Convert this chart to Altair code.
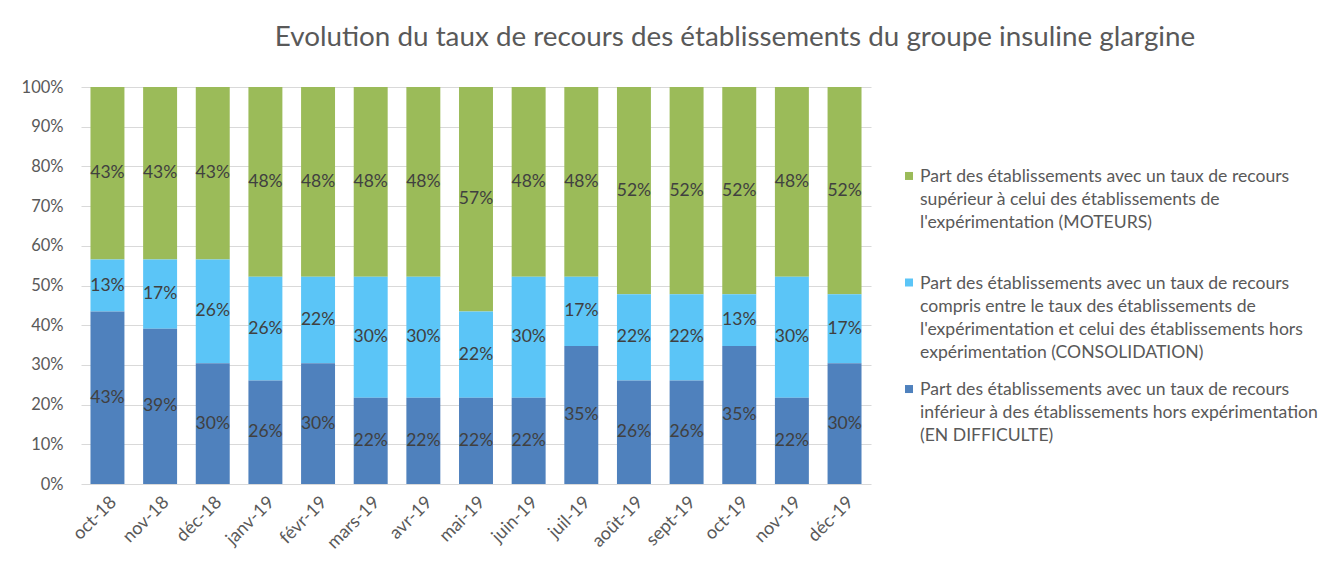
import altair as alt
import pandas as pd

# ---- data (number of establishments out of 23) ----
months = ["oct-18", "nov-18", "déc-18", "janv-19", "févr-19", "mars-19", "avr-19",
          "mai-19", "juin-19", "juil-19", "août-19", "sept-19", "oct-19", "nov-19", "déc-19"]
en_difficulte = [10, 9, 7, 6, 7, 5, 5, 5, 5, 8, 6, 6, 8, 5, 7]
consolidation = [3, 4, 6, 6, 5, 7, 7, 5, 7, 4, 5, 5, 3, 7, 4]
moteurs = [10, 10, 10, 11, 11, 11, 11, 13, 11, 11, 12, 12, 12, 11, 12]

keys = ["MOTEURS", "CONSOLIDATION", "EN DIFFICULTE"]
stack_order = [2, 1, 0]  # bottom = EN DIFFICULTE
legend_labels = [
    "Part des établissements avec un taux de recours\nsupérieur à celui des établissements de\nl'expérimentation (MOTEURS)",
    "Part des établissements avec un taux de recours\ncompris entre le taux des établissements de\nl'expérimentation et celui des établissements hors\nexpérimentation (CONSOLIDATION)",
    "Part des établissements avec un taux de recours\ninférieur à des établissements hors expérimentation\n(EN DIFFICULTE)",
]
colors = ["#9BBB59", "#5BC5F7", "#4F81BD"]
y_ticks = [0, 0.1, 0.2, 0.3, 0.4, 0.5, 0.6, 0.7, 0.8, 0.9, 1.0]
title_text = "Evolution du taux de recours des établissements du groupe insuline glargine"

series = {"MOTEURS": moteurs, "CONSOLIDATION": consolidation, "EN DIFFICULTE": en_difficulte}
rows = []
for k, o in zip(keys, stack_order):
    for m, v in zip(months, series[k]):
        rows.append({"month": m, "key": k, "order": o, "count": v})
df = pd.DataFrame(rows)

leg_df = pd.DataFrame({"key": keys, "label": legend_labels})

FONT = "Lato"
color_scale = alt.Scale(domain=keys, range=colors)

x_enc = alt.X("month:N", sort=months, title=None,
              scale=alt.Scale(paddingInner=0.355, paddingOuter=0.18),
              axis=alt.Axis(labelAngle=-45, labelPadding=9, ticks=False, domain=False,
                            grid=False, labelFontSize=18, labelColor="#595959", labelFont=FONT))

y_axis = alt.Axis(format=".0%", values=y_ticks, tickCount=11, ticks=False, domain=False,
                  labelOverlap=False, labelFlush=False,
                  gridColor="#D9D9D9", labelPadding=18, minExtent=60, maxExtent=60,
                  labelFontSize=16.5, labelColor="#595959", labelFont=FONT)
y_scale = alt.Scale(domain=[0, 1])

base = alt.Chart(df).transform_stack(
    stack="count", groupby=["month"], as_=["y0", "y1"],
    offset="normalize", sort=[alt.SortField("order", order="ascending")]
).transform_calculate(mid="(datum.y0 + datum.y1) / 2", share="datum.y1 - datum.y0")

bars = base.mark_bar().encode(
    x=x_enc,
    y=alt.Y("y0:Q", title=None, scale=y_scale, axis=y_axis),
    y2="y1:Q",
    color=alt.Color("key:N", scale=color_scale, legend=None),
)
labels = base.mark_text(fontSize=17.5, font=FONT, color="#404040").encode(
    x=x_enc,
    y=alt.Y("mid:Q", title=None, scale=y_scale, axis=y_axis),
    text=alt.Text("share:Q", format=".0%"),
)
main = alt.layer(bars, labels).properties(width=790, height=397)

leg_y = alt.Y("key:N", sort=keys, axis=None, title=None,
              scale=alt.Scale(type="point", padding=0.76))
leg_base = alt.Chart(leg_df)
squares = leg_base.mark_square(size=64, opacity=1, yOffset=8).encode(
    x=alt.value(4), y=leg_y,
    color=alt.Color("key:N", scale=color_scale, legend=None),
)
texts = leg_base.mark_text(align="left", baseline="top", lineBreak="\n", lineHeight=23,
                           fontSize=17.6, font=FONT, color="#595959").encode(
    x=alt.value(15), y=leg_y, text="label:N",
)
legend_panel = alt.layer(squares, texts).properties(width=420, height=375)

chart = alt.hconcat(main, legend_panel, spacing=34).properties(
    title=alt.TitleParams(title_text, anchor="middle", dx=62, offset=27, fontSize=27.8,
                          font=FONT, color="#595959", fontWeight="normal"),
    padding={"left": 13, "top": 16, "right": 5, "bottom": 5},
).configure_view(stroke=None)

chart.save("out.html", embed_options={"renderer": "svg", "actions": False})
